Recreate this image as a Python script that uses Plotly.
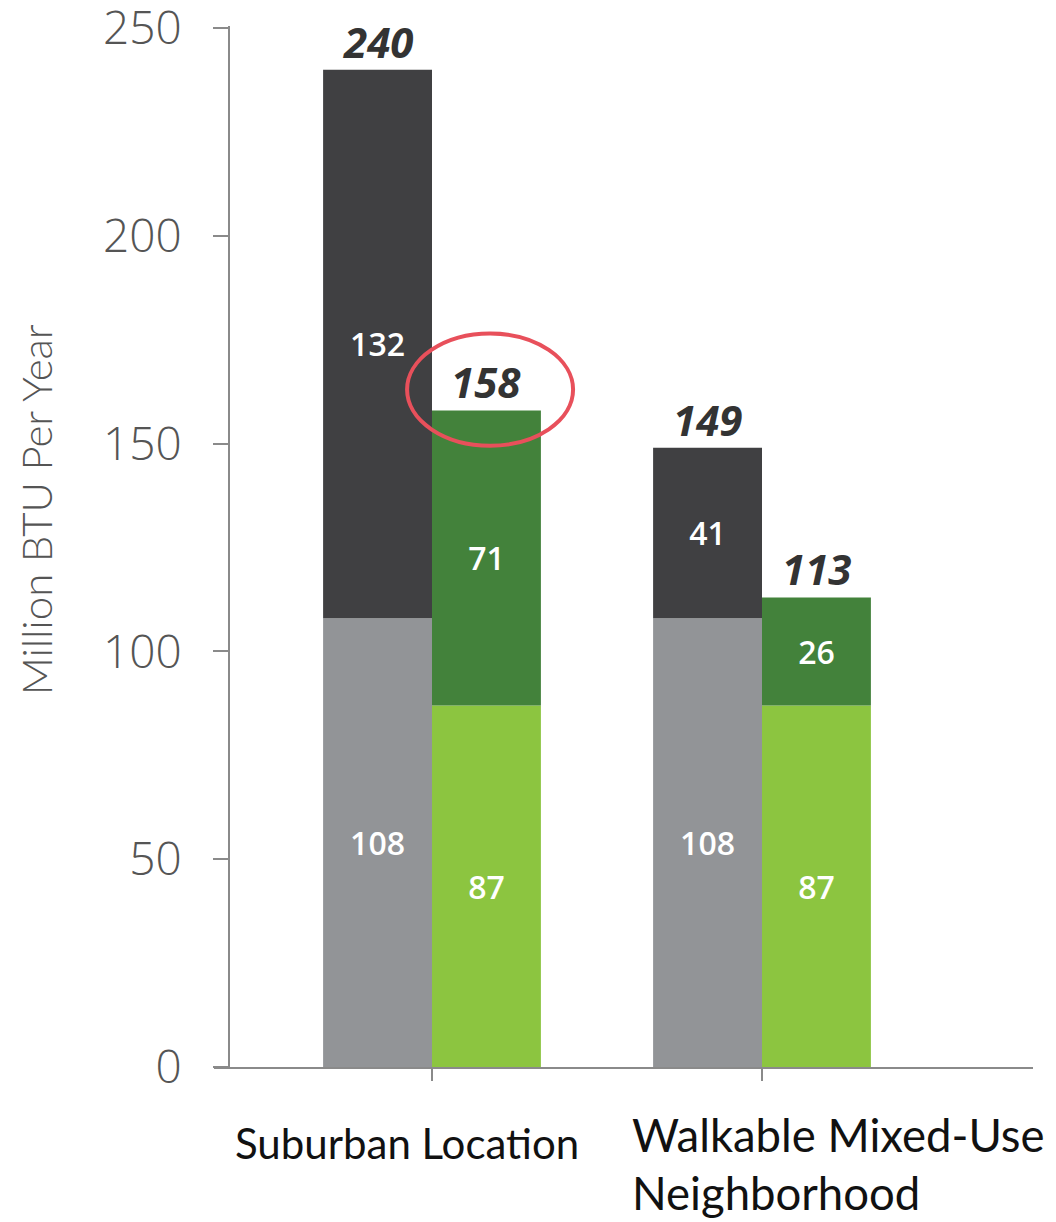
import plotly.graph_objects as go

categories = ["Suburban Location", "Walkable Mixed-Use Neighborhood"]
cat_pos = [0, 1]
home_energy_conv = [108, 108]      # gray
transport_conv = [132, 41]         # dark gray
home_energy_green = [87, 87]       # light green
transport_green = [71, 26]         # dark green
tick_vals = [0, 50, 100, 150, 200, 250]

conv_total = [a + b for a, b in zip(home_energy_conv, transport_conv)]
green_total = [a + b for a, b in zip(home_energy_green, transport_green)]

C_GRAY = "#929497"
C_DARK = "#404042"
C_LGREEN = "#8CC540"
C_DGREEN = "#43823B"

W = 0.33
fig = go.Figure()

label_font = dict(family="Open Sans", size=32, color="white", weight=600)

def add_bar(y, base, offset, color):
    fig.add_trace(go.Bar(
        x=cat_pos, y=y, base=base, offset=offset, width=W,
        marker=dict(color=color, line=dict(width=0)),
        text=[str(v) for v in y], textposition="inside",
        insidetextanchor="middle", textfont=label_font,
        constraintext="none", showlegend=False, hoverinfo="skip",
    ))

add_bar(home_energy_conv, [0, 0], -W, C_GRAY)
add_bar(transport_conv, home_energy_conv, -W, C_DARK)
add_bar(home_energy_green, [0, 0], 0, C_LGREEN)
add_bar(transport_green, home_energy_green, 0, C_DGREEN)

annotations = []
total_font = dict(family="Open Sans", size=42, color="#333333", weight=700, style="italic")
for i, p in enumerate(cat_pos):
    annotations.append(dict(x=p - W / 2, y=conv_total[i], xref="x", yref="y",
                            text=str(conv_total[i]), showarrow=False,
                            yanchor="bottom", xanchor="center", font=total_font, yshift=-2))
    annotations.append(dict(x=p + W / 2, y=green_total[i], xref="x", yref="y",
                            text=str(green_total[i]), showarrow=False,
                            yanchor="bottom", xanchor="center", font=total_font, yshift=-2))

annotations.append(dict(x=cat_pos[0] - 0.077, y=-0.0731, xref="x", yref="paper",
                        text="Suburban Location", showarrow=False,
                        xanchor="center", yanchor="middle",
                        font=dict(family="Lato", size=42, color="#111111")))
annotations.append(dict(x=cat_pos[1] - 0.40, y=-0.065, xref="x", yref="paper",
                        text="Walkable Mixed-Use", showarrow=False,
                        xanchor="left", yanchor="middle",
                        font=dict(family="Lato", size=45.5, color="#111111")))
annotations.append(dict(x=cat_pos[1] - 0.40, y=-0.1205, xref="x", yref="paper",
                        text="Neighborhood", showarrow=False,
                        xanchor="left", yanchor="middle",
                        font=dict(family="Lato", size=45.5, color="#111111")))
annotations.append(dict(x=-0.217, y=0.535, xref="paper", yref="paper",
                        text="Million BTU Per Year", showarrow=False, textangle=-90,
                        xanchor="center", yanchor="middle",
                        font=dict(family="Lato", size=42, color="#555555", weight=300)))

# highlight ellipse around the 158 total
hx = cat_pos[0] + 0.176
hy = green_total[0] + 5
shapes = [dict(type="circle", xref="x", yref="y",
               x0=hx - 0.2515, x1=hx + 0.2515, y0=hy - 13.5, y1=hy + 13.5,
               line=dict(color="#E8505B", width=4))]

# page body has an 8px margin, so the figure is sized/offset to compensate
fig.update_layout(
    width=1048, height=1214,
    margin=dict(l=206, r=23, t=18, b=155, autoexpand=False),
    barmode="overlay",
    plot_bgcolor="white", paper_bgcolor="white",
    annotations=annotations, shapes=shapes,
    xaxis=dict(range=[-0.6606, 1.8212], tickvals=cat_pos, ticktext=["", ""],
               automargin=False,
               showgrid=False, zeroline=False, showline=True, linecolor="#8a8a8a",
               linewidth=2, ticks="outside", ticklen=12, tickwidth=2, tickcolor="#8a8a8a"),
    yaxis=dict(range=[0, 250.5], tickvals=tick_vals, anchor="free", position=0.0183,
               automargin=False,
               showgrid=False, zeroline=False, showline=True, linecolor="#8a8a8a",
               linewidth=2, ticks="outside", ticklen=15, tickwidth=2, tickcolor="#8a8a8a",
               ticklabelstandoff=22, ticklabeloverflow="allow",
               tickfont=dict(family="Open Sans", size=46, color="#555555", weight=300)),
)

fig.write_html("out.html")
